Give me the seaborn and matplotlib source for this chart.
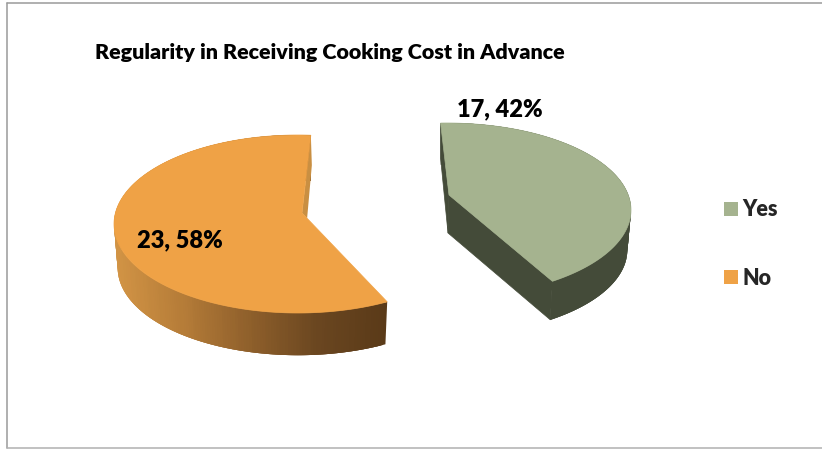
import numpy as np
import seaborn as sns
import matplotlib
matplotlib.use('Agg')
import matplotlib.pyplot as plt
from matplotlib.patches import Patch

title = 'Regularity in Receiving Cooking Cost in Advance'
categories = ['Yes', 'No']
counts = [17, 23]
percents = [42, 58]

top_colors = ['#A5B38F', '#EFA246']
side_green = ['#444B39', '#444B39']
side_orange = ['#D29445', '#B57C38', '#8E5F2B', '#6A4620', '#5A3A18']
wall_orange = '#C98F42'

sns.set_theme(style='white')
plt.rcParams['font.family'] = ['Lato', 'DejaVu Sans']


def arc(cx, cy, a, b, start, sweep, n=240):
    t = np.radians(np.linspace(start, start - sweep, n))
    return cx + a * np.cos(t), cy - b * np.sin(t)


def slice_3d(ax, count, total, cx, cy, a, b, start, stretch, apex, depth, color, side_cols):
    # sweep comes from the value, stretch is the perspective of the 3d view
    sweep = 360 * count / total * stretch
    x, y = arc(cx, cy, a, b, start, sweep)
    xb, yb = arc(cx, cy + depth, a * 0.98, b * 0.98, start, sweep)

    pal = sns.blend_palette(side_cols, 120)
    lo, hi = x.min(), max(x[0], x[-1])
    # quads overlap the next ones so no seams show between them
    for i in range(len(x) - 1):
        j = min(i + 3, len(x) - 1)
        c = pal[int(np.clip((x[i] - lo) / (hi - lo), 0, 1) * 119)]
        ax.fill([x[i], x[j], xb[j], xb[i]], [y[i], y[j], yb[j], yb[i]], color=c, lw=0, zorder=2)

    ax.fill(np.r_[apex[0], x], np.r_[apex[1], y], color=color, lw=0.5, zorder=4)
    return x, y, xb, yb


fig = plt.figure(figsize=(8.22, 4.49), dpi=100)
ax = fig.add_axes([0, 0, 1, 1])
ax.set_xlim(0, 822)
ax.set_ylim(449, 0)
ax.axis('off')

total = sum(counts)

# Yes
apex_y = (449, 195)
x, y, xb, yb = slice_3d(ax, counts[0], total, 447, 210, 184, 87, 92, 0.961, apex_y, 40,
                        top_colors[0], side_green)
ax.fill([x[0], x[0], apex_y[0] - 1, apex_y[0]], [y[0], y[0] + 35, apex_y[1] + 38, apex_y[1]],
        color=side_green[0], lw=0.5, zorder=3)
ax.fill([apex_y[0], apex_y[0] - 1, xb[-1], x[-1]], [apex_y[1], apex_y[1] + 38, yb[-1], y[-1]],
        color=side_green[0], lw=0.5, zorder=3)

# No
apex_n = (302, 213)
x, y, xb, yb = slice_3d(ax, counts[1], total, 298, 224, 184, 89, -61, 1.029, apex_n, 44,
                        top_colors[1], side_orange)
notch_x = apex_n[0] + 0.06 * (x[0] - apex_n[0])
notch_y = apex_n[1] + 0.06 * (y[0] - apex_n[1])
ax.fill([x[-1], x[-1] + 1, notch_x, apex_n[0]], [y[-1], y[-1] + 30, notch_y, apex_n[1]],
        color=wall_orange, lw=0, zorder=3)

# chart frame
ax.plot([6.5, 6.5], [2.5, 448], color='#9a9a9a', lw=1.1, zorder=1)
ax.plot([6.5, 822], [2.5, 2.5], color='#9a9a9a', lw=1.1, zorder=1)
ax.plot([6.5, 822], [448, 448], color='#b0b0b0', lw=1.1, zorder=1)

ax.text(95, 53, title, fontsize=15.45, fontweight='heavy', color='black', va='center', ha='left')
ax.text(500, 109, f'{counts[0]}, {percents[0]}%', fontsize=17, fontweight='heavy',
        color='black', ha='center', va='center', zorder=5)
ax.text(180, 240, f'{counts[1]}, {percents[1]}%', fontsize=17, fontweight='heavy',
        color='black', ha='center', va='center', zorder=5)

handles = [Patch(facecolor=c, edgecolor='none', label=l) for c, l in zip(top_colors, categories)]
ax.legend(handles=handles, loc='center left', bbox_to_anchor=(705, 244), bbox_transform=ax.transData,
          frameon=False, prop={'size': 15.5, 'weight': 'heavy', 'family': 'Lato'},
          handlelength=0.65, handleheight=0.65, handletextpad=0.2, labelspacing=2.2)

fig.savefig('out.png', dpi=100)
